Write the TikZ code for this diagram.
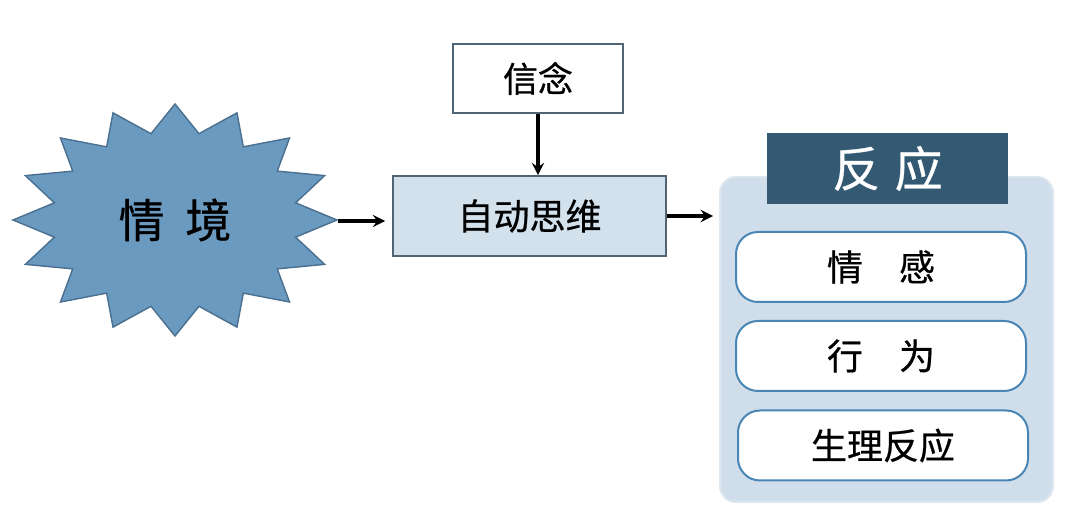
\documentclass[tikz,border=0pt]{standalone}
\usepackage{fontspec}
\newfontfamily\cjk[FakeBold=0.6]{Noto Sans CJK SC}
\usetikzlibrary{positioning}

\definecolor{starfill}{HTML}{6A9AC0}
\definecolor{starline}{HTML}{4A6F8F}
\definecolor{boxline}{HTML}{4F6475}
\definecolor{thoughtfill}{HTML}{D2E1EC}
\definecolor{panelfill}{HTML}{CFDEEA}
\definecolor{panelline}{HTML}{DCE6EE}
\definecolor{headfill}{HTML}{345A73}
\definecolor{itemline}{HTML}{4A86B5}

\begin{document}
\begin{tikzpicture}[x=0.5pt, y=-0.5pt,
        flow/.style={-stealth, line width=1.7pt, black},
        plainbox/.style={draw=boxline, line width=0.8pt, inner sep=0pt, font=\cjk\fontsize{17.5pt}{20pt}\selectfont},
        itembox/.style={draw=itemline, fill=white, line width=1pt, rounded corners=11pt, minimum width=145pt, minimum height=35pt, inner sep=0pt, font=\cjk\fontsize{18pt}{20pt}\selectfont}]
    \useasboundingbox (0, 0) rectangle (1080, 522);

    % situation star
    \draw [fill=starfill, draw=starline, line width=0.7pt, shift={(175, 220)}] (0:162 and 116)
        \foreach \i in {0,...,15} { -- ({\i*22.5+11.25}:123 and 88) -- ({\i*22.5+22.5}:162 and 116) } -- cycle;
    \node [font=\cjk\fontsize{23pt}{25pt}\selectfont] (situation) at (175, 220) {情\hspace{0.45em}境};
    \coordinate (tip) at (338, 221);

    % belief and automatic thought
    \node [plainbox, fill=white, minimum width=85pt, minimum height=34.5pt] (belief) at (538, 78.5) {信念};
    \node [plainbox, fill=thoughtfill, minimum width=136.5pt, minimum height=40pt, font=\cjk\fontsize{18pt}{20pt}\selectfont] (thought) at (529.5, 216) {自动思维};

    % reaction panel
    \node [fill=panelfill, draw=panelline, line width=1pt, rounded corners=8pt, minimum width=166.5pt, minimum height=162.5pt] (panel) at (886.5, 339.5) {};
    \node [fill=headfill, text=white, minimum width=120.5pt, minimum height=35.5pt, inner sep=0pt, font=\cjk\fontsize{24pt}{26pt}\selectfont] (head) at (887.5, 168.5) {反\hspace{0.3em}应};
    \node [itembox] (emotion) at (881, 267) {情\hspace{1em}感};
    \node [itembox] (behaviour) at (881, 356) {行\hspace{1em}为};
    \node [itembox] (body) at (883, 445.5) {生理反应};

    \draw [flow, shorten >=3.5pt] (tip) -- (tip -| thought.west);
    \draw [flow] (belief) -- (thought.north -| belief);
    \draw [flow, shorten >=3pt] (thought.east) -- (thought.east -| panel.west);
\end{tikzpicture}
\end{document}
